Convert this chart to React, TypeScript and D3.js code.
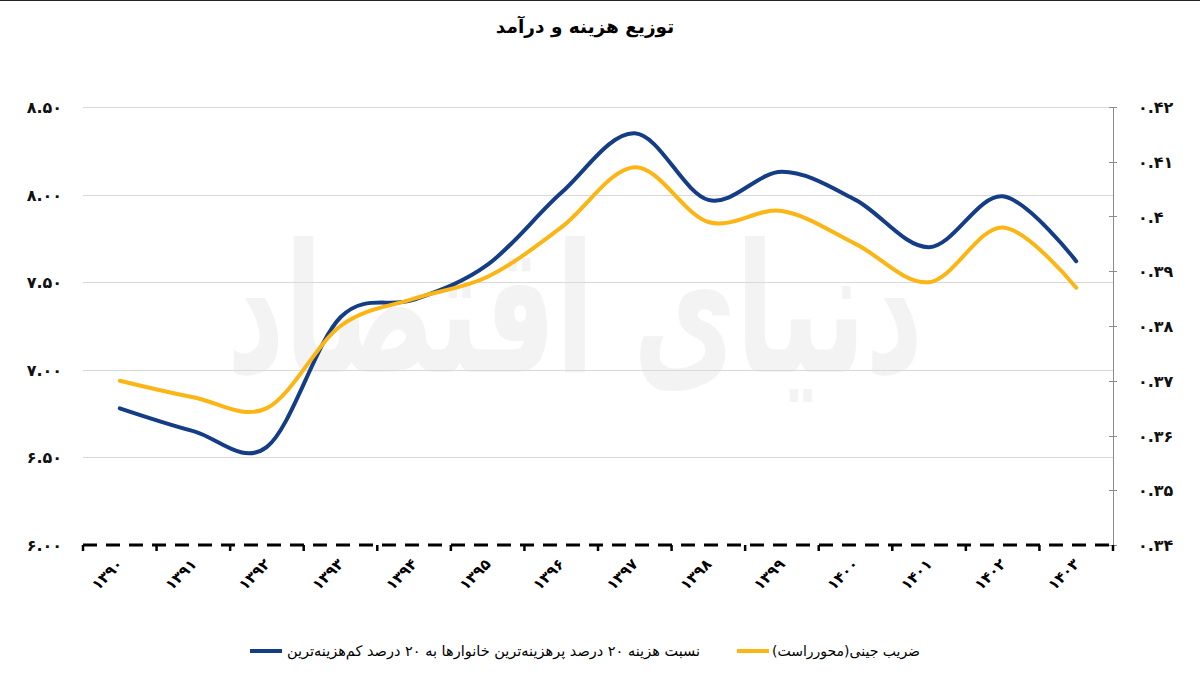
import React from "react";
import * as d3 from "d3";

const years = ["۱۳۹۰","۱۳۹۱","۱۳۹۲","۱۳۹۳","۱۳۹۴","۱۳۹۵","۱۳۹۶","۱۳۹۷","۱۳۹۸","۱۳۹۹","۱۴۰۰","۱۴۰۱","۱۴۰۲","۱۴۰۳"];
const ratioValues = [6.78, 6.65, 6.56, 7.30, 7.40, 7.60, 8.01, 8.35, 7.97, 8.13, 7.97, 7.70, 7.99, 7.62];
const giniValues = [0.370, 0.367, 0.365, 0.380, 0.385, 0.389, 0.398, 0.409, 0.399, 0.401, 0.395, 0.388, 0.398, 0.387];
const leftTicks = [6.0, 6.5, 7.0, 7.5, 8.0, 8.5];
const leftTickLabels = ["۶.۰۰","۶.۵۰","۷.۰۰","۷.۵۰","۸.۰۰","۸.۵۰"];
const rightTicks = [0.34, 0.35, 0.36, 0.37, 0.38, 0.39, 0.40, 0.41, 0.42];
const rightTickLabels = ["۰.۳۴","۰.۳۵","۰.۳۶","۰.۳۷","۰.۳۸","۰.۳۹","۰.۴","۰.۴۱","۰.۴۲"];
const title = "توزیع هزینه و درآمد";
const ratioLabel = "نسبت هزینه ۲۰ درصد پرهزینه‌ترین خانوارها به ۲۰ درصد کم‌هزینه‌ترین";
const giniLabel = "ضریب جینی(محورراست)";
const watermark = "دنیای اقتصاد";

const BLUE = "#143d86";
const YELLOW = "#fbb514";
const FONT = "'DejaVu Sans', sans-serif";
const RLM = "\u200F";

export default function App() {
  const W = 1200, H = 675;
  const left = 83, right = 1113, top = 107, bottom = 545;
  const x = d3.scaleBand<string>().domain(years).range([left, right]);
  const yL = d3.scaleLinear().domain([6, 8.5]).range([bottom, top]);
  const yR = d3.scaleLinear().domain([0.34, 0.42]).range([bottom, top]);
  const cx = (i: number) => (x(years[i]) as number) + x.bandwidth() / 2;

  const lineL = d3.line<number>().x((_, i) => cx(i)).y((d) => yL(d)).curve(d3.curveCardinal.tension(0));
  const lineR = d3.line<number>().x((_, i) => cx(i)).y((d) => yR(d)).curve(d3.curveCardinal.tension(0));

  const boundaries = years.map((y) => x(y) as number).concat([right]);

  return (
    <svg width={W} height={H} style={{ position: "absolute", left: 0, top: 0, display: "block", background: "#fff" }} fontFamily={FONT}>
      <rect x={0} y={0} width={W} height={H} fill="#fff" />
      <line x1={0} x2={W} y1={0.5} y2={0.5} stroke="#222" strokeWidth={1} />
      <text transform="translate(575,372) scale(1,1.6)" textAnchor="middle" fontSize={112} fill="#f3f3f3" fontWeight="bold">{watermark}</text>
      <text x={585} y={33} textAnchor="middle" fontSize={18.5} fontWeight="bold" fill="#000">{title}</text>

      {leftTicks.filter((t) => t > 6).map((t) => (
        <line key={"g" + t} x1={left} x2={right} y1={Math.round(yL(t)) + 0.5} y2={Math.round(yL(t)) + 0.5} stroke="#d9d9d9" strokeWidth={1} />
      ))}

      {leftTicks.map((t, i) => (
        <text key={"l" + t} x={62} y={yL(t) + 6} textAnchor="end" fontSize={16} fontWeight="bold" fill="#111">{leftTickLabels[i]}</text>
      ))}

      <line x1={right + 0.5} x2={right + 0.5} y1={top} y2={bottom} stroke="#8c8c8c" strokeWidth={1} />
      {rightTicks.map((t, i) => (
        <g key={"r" + t}>
          <line x1={right - 4} x2={right + 4} y1={Math.round(yR(t)) + 0.5} y2={Math.round(yR(t)) + 0.5} stroke="#8c8c8c" strokeWidth={1} />
          <text x={1138} y={yR(t) + 6} textAnchor="start" fontSize={16} fontWeight="bold" fill="#111">{rightTickLabels[i]}</text>
        </g>
      ))}

      <line x1={left} x2={right} y1={bottom} y2={bottom} stroke="#000" strokeWidth={3} strokeDasharray="14,9" />
      {boundaries.map((b, i) => (
        <line key={"t" + i} x1={b} x2={b} y1={bottom} y2={bottom + 6} stroke="#000" strokeWidth={2.5} />
      ))}

      {years.map((yr, i) => (
        <text key={"x" + yr} transform={`translate(${cx(i) + 4},${bottom + 20}) rotate(-45)`} textAnchor="end" fontSize={15} fontWeight="bold" fill="#000">{yr}</text>
      ))}

      <path d={lineL(ratioValues) || ""} fill="none" stroke={BLUE} strokeWidth={4} strokeLinecap="round" strokeLinejoin="round" />
      <path d={lineR(giniValues) || ""} fill="none" stroke={YELLOW} strokeWidth={4} strokeLinecap="round" strokeLinejoin="round" />

      <line x1={250} x2={282} y1={651} y2={651} stroke={BLUE} strokeWidth={4} />
      <text x={700} y={656} textAnchor="end" fontSize={14.5} fill="#000">{RLM + ratioLabel + RLM}</text>
      <line x1={737} x2={769} y1={651} y2={651} stroke={YELLOW} strokeWidth={4} />
      <text x={920} y={656} textAnchor="end" fontSize={14} fill="#000">{RLM + giniLabel + RLM}</text>
    </svg>
  );
}
